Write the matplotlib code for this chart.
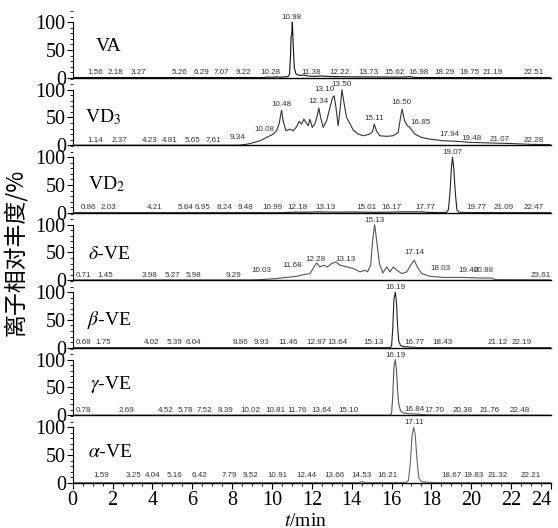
import matplotlib
matplotlib.use("Agg")
import matplotlib.pyplot as plt
from matplotlib.ticker import MultipleLocator

plt.rcParams['font.family'] = ['Liberation Serif', 'DejaVu Sans']
plt.rcParams['mathtext.fontset'] = 'stix'

# ---- chromatogram traces (t/min, relative abundance %) ----
va_t = [0, 9.6, 9.8, 10.0, 10.2, 10.4, 10.6, 10.8, 10.88, 10.93, 10.96, 10.99, 11.02, 11.07,
        11.12, 11.2, 11.3, 11.45, 11.6, 11.8, 12.1, 12.5, 13.0, 14.0, 15.5, 16.5, 16.9, 17.1, 17.3, 24]
va_i = [0.3, 0.3, 1.5, 0.5, 1.8, 0.8, 1.5, 2, 6, 40, 75, 78, 100, 55,
        18, 7, 5, 4, 5, 3, 2.5, 3, 2, 1.5, 1.2, 1, 1.8, 0.8, 0.3, 0.2]

vd3_t = [0, 8.3, 8.6, 8.9, 9.4, 9.73, 10.06, 10.23, 10.36, 10.48, 10.56, 10.7, 10.9, 11.07, 11.23,
         11.37, 11.49, 11.6, 11.7, 11.82, 11.9, 12.02, 12.15, 12.27, 12.35, 12.44, 12.57, 12.74,
         12.91, 13.04, 13.12, 13.21, 13.32, 13.41, 13.51, 13.61, 13.74, 13.91, 14.08, 14.33, 14.58,
         14.91, 15.05, 15.13, 15.25, 15.41, 15.75, 16.08, 16.33, 16.45, 16.53, 16.65, 16.8, 16.92,
         17.17, 17.5, 17.92, 18.59, 19.26, 20.0, 21.0, 22.0, 23.0, 24]
vd3_i = [0, 0, 1, 3, 8, 14, 20, 26, 39, 63, 44, 26, 29, 26, 33,
         43, 38, 47, 41, 35, 47, 32, 38, 53, 67, 50, 32, 44,
         68, 86, 89, 68, 35, 62, 100, 77, 50, 39, 27, 20, 17,
         20, 25, 38, 25, 17, 16, 17, 23, 50, 65, 44, 35, 32,
         20, 14, 11, 8, 7, 5, 4, 3, 1.5, 1]

vd2_t = [0, 10.5, 11.0, 12.0, 12.3, 13.0, 14.0, 15.0, 16.0, 16.5, 17.5, 17.9, 18.3, 18.75,
         18.85, 18.93, 19.0, 19.06, 19.12, 19.2, 19.28, 19.38, 19.6, 24]
vd2_i = [0, 0, 0.8, 1, 1.5, 1, 1.2, 0.8, 1, 1.5, 1.5, 0.5, 0.3, 0.5,
         5, 35, 80, 100, 80, 35, 5, 1, 0.3, 0]

dve_t = [0, 9.0, 9.4, 10.24, 10.74, 11.24, 11.58, 11.91, 12.11, 12.24, 12.41, 12.58, 12.78, 13.0,
         13.21, 13.41, 13.75, 14.08, 14.42, 14.67, 14.79, 14.95, 15.05, 15.15, 15.25, 15.39, 15.56,
         15.76, 15.92, 16.09, 16.26, 16.51, 16.76, 17.01, 17.14, 17.29, 17.51, 17.93, 18.6, 19.6,
         20.44, 21.0, 21.2, 24]
dve_i = [0.5, 0.5, 1, 3, 5, 7, 10, 12, 24, 31, 24, 27, 24, 30,
         33, 27, 24, 21, 15, 18, 15, 27, 72, 100, 72, 30, 13,
         24, 15, 24, 18, 12, 15, 30, 36, 24, 12, 7, 5, 5,
         4, 4, 1, 0.5]

bve_t = [0, 15.9, 16.0, 16.06, 16.12, 16.19, 16.25, 16.3, 16.36, 16.45, 16.6, 16.8, 17.0, 17.3, 24]
bve_i = [0, 0, 3, 35, 88, 100, 80, 40, 12, 4, 2, 1.5, 1, 0, 0]

gve_t = [0, 15.9, 16.0, 16.06, 16.12, 16.19, 16.25, 16.3, 16.36, 16.45, 16.6, 16.8, 17.0, 17.3,
         17.6, 18.0, 24]
gve_i = [0, 0, 3, 35, 88, 100, 80, 45, 20, 8, 4, 3, 2.5, 2, 1, 0.3, 0]

ave_t = [0, 14.3, 14.5, 14.7, 16.7, 16.85, 16.94, 17.03, 17.11, 17.19, 17.28, 17.36, 17.46,
         17.6, 18.0, 18.3, 24]
ave_i = [0, 0, 2, 0, 0, 4, 35, 85, 100, 85, 40, 10, 3, 1.5, 0.5, 0, 0]

# ---- peak labels: text, where it sits (t), height (%) ----
va_lab = ['1.56', '2.18', '3.27', '5.26', '6.29', '7.07', '9.22', '10.28', '10.98', '11.38',
          '12.22', '13.73', '15.62', '16.98', '18.29', '19.75', '21.19', '22.51']
va_lx = [1.14, 2.15, 3.31, 5.37, 6.44, 7.46, 8.58, 9.92, 10.99, 11.97,
         13.40, 14.83, 16.17, 17.33, 18.67, 19.92, 21.08, 23.14]
va_ly = [9, 9, 9, 9, 9, 9, 9, 9, 108, 10, 10, 9, 9, 9, 9, 9, 9, 9]

vd3_lab = ['1.14', '2.37', '4.23', '4.81', '5.65', '7.61', '9.34', '10.08', '10.48', '12.34',
           '13.10', '13.50', '15.11', '16.50', '16.85', '17.94', '19.48', '21.07', '22.28']
vd3_lx = [1.14, 2.33, 3.85, 4.89, 5.99, 7.06, 8.28, 9.6, 10.49, 12.32,
          12.62, 13.5, 15.12, 16.5, 17.46, 18.9, 20.0, 21.44, 23.14]
vd3_ly = [9, 9, 9, 9, 9, 9, 13, 29, 74, 79, 101, 110, 48, 77, 40, 20, 12, 10, 9]

vd2_lab = ['0.86', '2.03', '4.21', '5.84', '6.95', '8.24', '9.48', '10.99', '12.18', '13.13',
           '15.01', '16.17', '17.77', '19.07', '19.77', '21.09', '22.47']
vd2_lx = [0.81, 1.8, 4.12, 5.64, 6.53, 7.6, 8.67, 10.01, 11.26, 12.69,
          14.74, 15.99, 17.69, 19.06, 20.28, 21.62, 23.14]
vd2_ly = [9, 9, 9, 9, 9, 9, 9, 9, 9, 9, 9, 9, 9, 108, 9, 9, 9]

dve_lab = ['0.71', '1.45', '3.98', '5.27', '5.98', '9.29', '10.03', '11.68', '12.28', '13.13',
           '15.13', '17.14', '18.03', '19.40', '20.88', '23.61']
dve_lx = [0.55, 1.62, 3.85, 5.01, 6.08, 8.05, 9.45, 10.99, 12.16, 13.67,
          15.17, 17.13, 18.43, 19.85, 20.64, 23.49]
dve_ly = [9, 9, 9, 9, 9, 9, 18, 27, 38, 38, 108, 50, 21, 18, 18, 9]

bve_lab = ['0.68', '1.75', '4.02', '5.39', '6.04', '8.86', '9.93', '11.46', '12.87', '13.64',
           '15.13', '16.19', '16.77', '18.43', '21.12', '22.19']
bve_lx = [0.55, 1.53, 3.94, 5.1, 6.08, 8.4, 9.48, 10.81, 12.24, 13.31,
          15.1, 16.19, 17.15, 18.58, 21.35, 22.51]
bve_ly = [9, 9, 9, 9, 9, 9, 9, 9, 9, 9, 9, 108, 10, 9, 9, 9]

gve_lab = ['0.78', '2.69', '4.52', '5.78', '7.52', '8.39', '10.02', '10.81', '11.76', '13.64',
           '15.10', '16.19', '16.84', '17.70', '20.38', '21.76', '22.48']
gve_lx = [0.55, 2.69, 4.65, 5.64, 6.62, 7.69, 8.94, 10.19, 11.26, 12.51,
          13.85, 16.2, 17.15, 18.14, 19.56, 20.9, 22.42]
gve_ly = [9, 9, 9, 9, 9, 9, 9, 9, 9, 9, 9, 108, 11, 9, 9, 9, 9]

ave_lab = ['1.59', '3.25', '4.04', '5.16', '6.42', '7.79', '9.52', '10.91', '12.44', '13.66',
           '14.53', '16.21', '17.11', '18.67', '19.83', '21.32', '22.21']
ave_lx = [1.44, 3.05, 4.03, 5.1, 6.35, 7.87, 8.94, 10.28, 11.71, 13.14,
          14.48, 15.81, 17.12, 19.03, 20.1, 21.35, 22.96]
ave_ly = [13, 13, 13, 13, 13, 13, 13, 13, 13, 13, 13, 13, 108, 13, 13, 13, 13]

names = ['VA', 'VD$_3$', 'VD$_2$', r'$\delta$-VE', r'$\beta$-VE', r'$\gamma$-VE', r'$\alpha$-VE']
name_x = [1.15, 0.6, 0.75, 0.75, 0.7, 0.85, 0.75]
name_y = [56, 50, 52, 47, 50, 55, 54]

traces = [(va_t, va_i), (vd3_t, vd3_i), (vd2_t, vd2_i), (dve_t, dve_i),
          (bve_t, bve_i), (gve_t, gve_i), (ave_t, ave_i)]
labels = [(va_lab, va_lx, va_ly), (vd3_lab, vd3_lx, vd3_ly), (vd2_lab, vd2_lx, vd2_ly),
          (dve_lab, dve_lx, dve_ly), (bve_lab, bve_lx, bve_ly), (gve_lab, gve_lx, gve_ly),
          (ave_lab, ave_lx, ave_ly)]
line_colors = ['#111111', '#333333', '#222222', '#555555', '#222222', '#555555', '#666666']

W, H = 558, 528
fig = plt.figure(figsize=(W / 100, H / 100), dpi=100)

x0, x1 = 72.7, 551.0       # pixel extent of the time axis
base0, step = 77.7, 67.5   # baseline of top panel and spacing between panels
unit = 55.5                # pixels for 100 %

for k in range(7):
    base = base0 + step * k
    ax = fig.add_axes([x0 / W, 1 - base / H, (x1 - x0) / W, step / H])
    ax.set_xlim(0, 24)
    ax.set_ylim(0, step / unit * 100)
    ax.patch.set_alpha(0)

    t, inten = traces[k]
    ax.plot(t, inten, color=line_colors[k], lw=0.8)

    lab, lx, ly = labels[k]
    for s, xx, yy in zip(lab, lx, ly):
        ax.text(xx, yy, s, fontsize=5.8, color='#333333', ha='center', va='center',
                family=['Liberation Sans Narrow', 'Liberation Sans', 'DejaVu Sans'],
                clip_on=False)

    ax.text(name_x[k], name_y[k], names[k], fontsize=14, ha='left', va='center')

    for side in ['top', 'right']:
        ax.spines[side].set_visible(False)
    ax.spines['left'].set_bounds(0, 100)
    ax.spines['left'].set_linewidth(0.8)
    ax.spines['bottom'].set_linewidth(1.0)

    ax.set_yticks([0, 50, 100])
    ax.yaxis.set_minor_locator(MultipleLocator(10))
    ax.tick_params(axis='y', which='major', length=4, width=0.8, labelsize=14.5, pad=1)
    ax.tick_params(axis='y', which='minor', length=2.5, width=0.6)

    if k < 6:
        ax.set_xticks([])
        ax.tick_params(axis='x', which='both', length=0)
    else:
        ax.set_xticks(range(0, 25, 2))
        ax.xaxis.set_minor_locator(MultipleLocator(0.5))
        ax.tick_params(axis='x', which='major', length=4, width=0.8, labelsize=14.5, pad=2)
        ax.tick_params(axis='x', which='minor', length=2.5, width=0.6)
        ax.get_xticklabels()[-1].set_horizontalalignment('right')

fig.text(305 / W, 1 - 522 / H, '$t$/min', fontsize=14, ha='center', va='center')
fig.text(15 / W, 1 - 252 / H, '离子相对丰度/%', fontsize=16.5, rotation=90,
         ha='center', va='center', family=['Noto Sans CJK SC', 'DejaVu Sans'])

fig.savefig('out.png', dpi=100)
